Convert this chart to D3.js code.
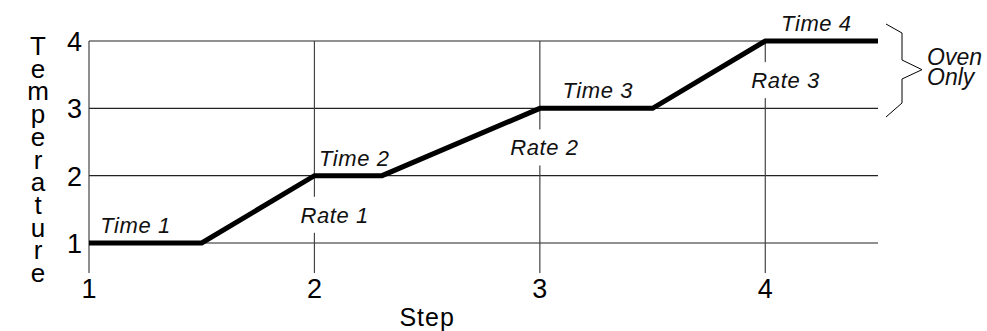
<!DOCTYPE html>
<html><head><meta charset="utf-8">
<script src="https://cdn.jsdelivr.net/npm/d3@7"></script>
<style>
body{margin:0;background:#fff;}
svg{display:block;font-family:"Liberation Sans",Arial,Helvetica,sans-serif;}
</style></head>
<body><svg id="c" width="987" height="331"></svg>
<script>
// Data
const steps = [1, 1.5, 2, 2.3, 3, 3.5, 4, 4.5];
const temps = [1, 1, 2, 2, 3, 3, 4, 4];
const xTicks = [1, 2, 3, 4];
const yTicks = [1, 2, 3, 4];
const timeLabels = ["Time 1", "Time 2", "Time 3", "Time 4"];
const timeStep = [1.05, 2.02, 3.1, 4.07];
const timeTemp = [1, 2, 3, 4];
const rateLabels = ["Rate 1", "Rate 2", "Rate 3"];
const rateStep = [2.09, 3.02, 4.09];
const rateTemp = [1.3, 2.3, 3.3];
const yTitle = "Temperature";
const xTitle = "Step";
const braceLabel = ["Oven", "Only"];

const svg = d3.select("#c");
const x = d3.scaleLinear().domain([1, 4.5]).range([89, 878]);
const y = d3.scaleLinear().domain([1, 4]).range([243, 41]);

// horizontal gridlines
svg.append("g").selectAll("line").data(yTicks).join("line")
  .attr("x1", x(1)).attr("x2", x(4.5))
  .attr("y1", d => y(d)).attr("y2", d => y(d))
  .attr("stroke", "#222").attr("stroke-width", 1.2);
// vertical lines
svg.append("g").selectAll("line").data(xTicks).join("line")
  .attr("x1", d => x(d)).attr("x2", d => x(d))
  .attr("y1", y(4)).attr("y2", y(1) + 30)
  .attr("stroke", "#444").attr("stroke-width", 1.2);

// rate labels with white background
const rg = svg.append("g").selectAll("g").data(rateLabels).join("g")
  .attr("transform", (d, i) => `translate(${x(rateStep[i])},${y(rateTemp[i])})`);
rg.append("rect").attr("x", -36).attr("y", -26).attr("width", 72).attr("height", 36).attr("fill", "#fff");
rg.append("text").text(d => d).attr("text-anchor", "middle")
  .attr("font-size", 22).attr("font-style", "italic").attr("letter-spacing", 0.6).attr("fill", "#111");

// data line
svg.append("path").datum(steps.map((s, i) => [s, temps[i]]))
  .attr("d", d3.line().x(d => x(d[0])).y(d => y(d[1])))
  .attr("fill", "none").attr("stroke", "#000").attr("stroke-width", 5)
  .attr("stroke-linejoin", "miter");

// time labels
svg.append("g").selectAll("text").data(timeLabels).join("text")
  .attr("x", (d, i) => x(timeStep[i])).attr("y", (d, i) => y(timeTemp[i]) - 10)
  .text(d => d).attr("font-size", 22).attr("font-style", "italic")
  .attr("letter-spacing", 0.6).attr("fill", "#111");

// tick labels
svg.append("g").selectAll("text").data(xTicks).join("text")
  .attr("x", d => x(d)).attr("y", 298).attr("text-anchor", "middle")
  .attr("font-size", 27).text(d => d);
svg.append("g").selectAll("text").data(yTicks).join("text")
  .attr("x", 82).attr("y", d => y(d) + 10).attr("text-anchor", "end")
  .attr("font-size", 27).text(d => d);

// axis titles
svg.append("text").attr("x", (x(1) + x(4)) / 2).attr("y", 326).attr("text-anchor", "middle")
  .attr("font-size", 25).attr("letter-spacing", 1).text(xTitle);
const yt = svg.append("text").attr("x", 38).attr("y", 55).attr("text-anchor", "middle")
  .attr("font-size", 26);
yt.selectAll("tspan").data(yTitle.split("")).join("tspan")
  .attr("x", 38).attr("dy", (d, i) => i === 0 ? 0 : 22.7).text(d => d);

// brace
const bx = 902;
const yMid = (y(4) + y(3)) / 2 - 5;
const brace = [[886, 24], [bx, 33], [bx, 60], [922, yMid], [bx, 79], [bx, 103], [886, 117]];
svg.append("path").attr("d", d3.line()(brace)).attr("fill", "none").attr("stroke", "#000").attr("stroke-width", 1);
const bt = svg.append("text").attr("x", 927).attr("y", 65)
  .attr("font-size", 23).attr("font-style", "italic").attr("fill", "#111");
bt.selectAll("tspan").data(braceLabel).join("tspan")
  .attr("x", 927).attr("dy", (d, i) => i === 0 ? 0 : 20).text(d => d);
</script></body></html>
